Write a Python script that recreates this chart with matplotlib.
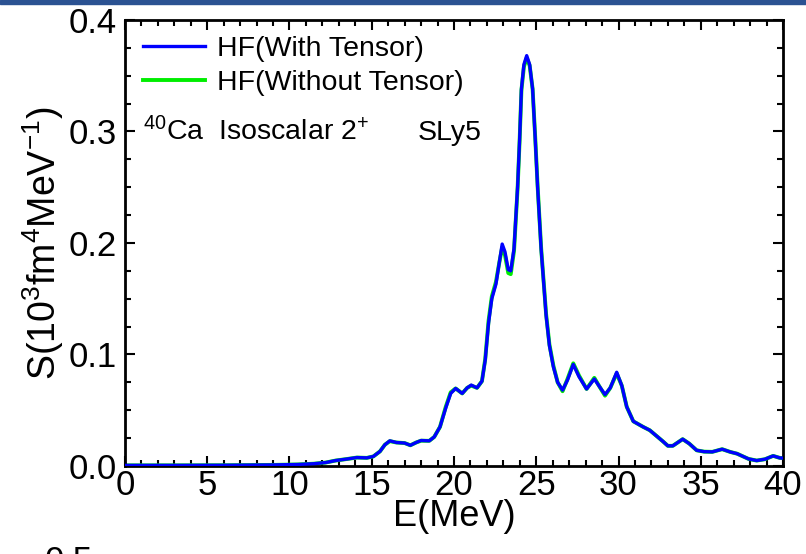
import matplotlib.pyplot as plt
from matplotlib.patches import Rectangle
from matplotlib.ticker import MultipleLocator

plt.rcParams["font.family"] = ["Liberation Sans", "DejaVu Sans"]
plt.rcParams["mathtext.fontset"] = "custom"
plt.rcParams["mathtext.rm"] = "Liberation Sans"
plt.rcParams["mathtext.it"] = "Liberation Sans"

# strength function
energy = [0, 3, 6, 9, 10.5, 11.5, 12.2, 12.8, 13.5, 14.1, 14.7, 15.1, 15.5,
          15.8, 16.1, 16.5, 17.0, 17.35, 17.7, 18.0, 18.5, 18.8, 19.15, 19.5,
          19.8, 20.1, 20.5, 20.8, 21.05, 21.4, 21.7, 21.9, 22.1, 22.3, 22.55,
          22.75, 22.93, 23.1, 23.3, 23.45, 23.65, 23.87, 23.99, 24.1, 24.25,
          24.42, 24.6, 24.78, 24.94, 25.08, 25.3, 25.6, 25.8, 26.04, 26.3,
          26.6, 26.9, 27.25, 27.6, 28.06, 28.53, 28.85, 29.18, 29.5, 29.89,
          30.2, 30.5, 30.9, 31.5, 31.9, 32.3, 32.7, 33.0, 33.3, 33.9, 34.3,
          34.75, 35.2, 35.7, 36.3, 36.8, 37.2, 37.9, 38.4, 38.9, 39.4, 39.8, 40]
s_tensor = [0.0005, 0.0005, 0.0006, 0.0009, 0.0013, 0.002, 0.003, 0.0048,
            0.0062, 0.0075, 0.0072, 0.0085, 0.013, 0.019, 0.0225, 0.021,
            0.0205, 0.0185, 0.021, 0.0228, 0.0225, 0.026, 0.035, 0.052, 0.065,
            0.0695, 0.065, 0.070, 0.0725, 0.070, 0.076, 0.095, 0.128, 0.150,
            0.163, 0.182, 0.199, 0.192, 0.176, 0.175, 0.195, 0.251, 0.293,
            0.338, 0.360, 0.368, 0.360, 0.338, 0.293, 0.251, 0.194, 0.135,
            0.108, 0.089, 0.075, 0.068, 0.077, 0.091, 0.080, 0.069, 0.078,
            0.071, 0.064, 0.070, 0.084, 0.072, 0.053, 0.040, 0.035, 0.032,
            0.027, 0.022, 0.018, 0.018, 0.024, 0.020, 0.014, 0.0128, 0.0126,
            0.015, 0.0125, 0.011, 0.0063, 0.0048, 0.006, 0.009, 0.0072, 0.007]
s_no_tensor = [0.0005, 0.0005, 0.0006, 0.0009, 0.0013, 0.002, 0.003, 0.0048,
               0.0062, 0.0075, 0.0072, 0.0085, 0.013, 0.019, 0.0222, 0.021,
               0.0205, 0.0185, 0.021, 0.0226, 0.0225, 0.026, 0.035, 0.053,
               0.066, 0.0695, 0.065, 0.070, 0.072, 0.070, 0.076, 0.096, 0.130,
               0.152, 0.165, 0.182, 0.196, 0.189, 0.173, 0.172, 0.193, 0.250,
               0.292, 0.337, 0.358, 0.366, 0.359, 0.338, 0.294, 0.252, 0.195,
               0.136, 0.109, 0.090, 0.075, 0.067, 0.078, 0.092, 0.081, 0.069,
               0.079, 0.071, 0.063, 0.070, 0.083, 0.072, 0.053, 0.040, 0.035,
               0.032, 0.027, 0.022, 0.018, 0.018, 0.024, 0.020, 0.014, 0.0128,
               0.0126, 0.015, 0.0125, 0.011, 0.0063, 0.0048, 0.006, 0.009,
               0.0072, 0.007]

fig = plt.figure(figsize=(8.06, 5.54), dpi=100)
ax = fig.add_axes([0.155, 0.159, 0.8165, 0.805])

ax.plot(energy, s_no_tensor, color="#00ee00", linewidth=2.8, label="HF(Without Tensor)",
        zorder=2, solid_joinstyle="round")
ax.plot(energy, s_tensor, color="#0000ff", linewidth=2.4, label="HF(With Tensor)",
        zorder=3, solid_joinstyle="round")

ax.set_xlim(0, 40)
ax.set_ylim(0, 0.4)
ax.xaxis.set_major_locator(MultipleLocator(5))
ax.xaxis.set_minor_locator(MultipleLocator(1))
ax.yaxis.set_major_locator(MultipleLocator(0.1))
ax.yaxis.set_minor_locator(MultipleLocator(0.025))
ax.tick_params(which="both", direction="in", top=True, right=True, labelsize=25, width=1.5)
ax.tick_params(which="major", length=7)
ax.tick_params(axis="x", which="major", pad=2)
ax.tick_params(axis="y", which="major", pad=6)
ax.tick_params(which="minor", length=4)
ax.yaxis.set_major_formatter(plt.FuncFormatter(lambda v, p: f"{v:.1f}"))
for spine in ax.spines.values():
    spine.set_linewidth(2)

ax.set_xlabel("E(MeV)", fontsize=26, labelpad=-2)
ax.set_ylabel(r"S(10$^3$fm$^4$MeV$^{-1}$)", fontsize=27, labelpad=2)

handles, labels = ax.get_legend_handles_labels()
ax.legend(handles[::-1], labels[::-1], loc="upper left", bbox_to_anchor=(0.028, 0.963),
          frameon=False, fontsize=20.5, handlelength=2.18, handletextpad=0.39,
          labelspacing=0.27, borderpad=0, borderaxespad=0)

ax.text(0.027, 0.731, r"$^{40}$Ca  Isoscalar 2$^{+}$", transform=ax.transAxes, fontsize=20.5)
ax.text(0.445, 0.731, "SLy5", transform=ax.transAxes, fontsize=20.5)

# slide header strip and the cut-off label of the next panel
fig.patches.append(Rectangle((0, 0.993), 1, 0.007, transform=fig.transFigure,
                             color="#2b5292", zorder=0))
fig.text(0.055, 0.0162, "0.5", fontsize=25, va="top")

fig.savefig("out.png", dpi=100)
